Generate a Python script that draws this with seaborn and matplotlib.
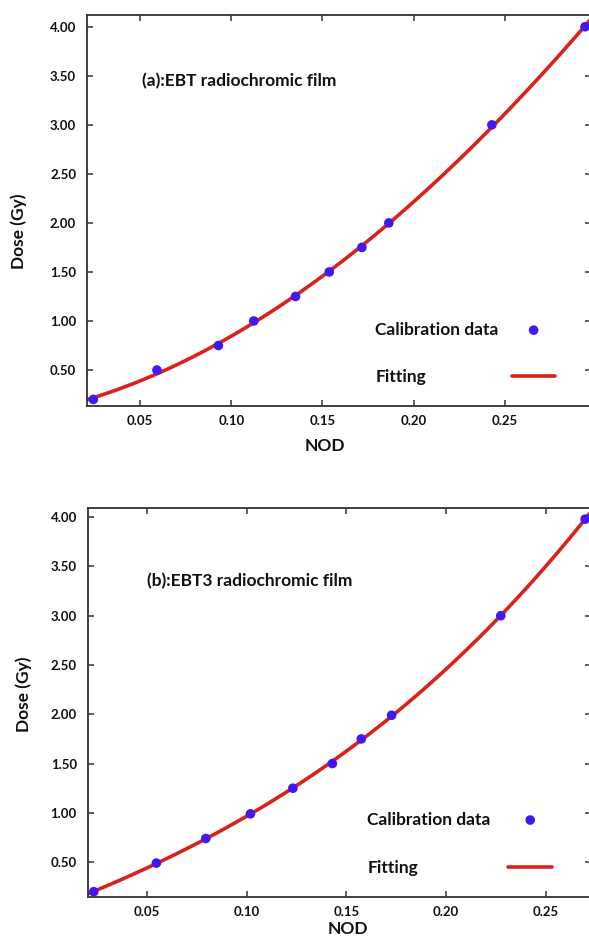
import numpy as np
import pandas as pd
import seaborn as sns
import matplotlib.pyplot as plt
from matplotlib.ticker import FormatStrFormatter

sns.set_theme(style="ticks")
plt.rcParams['font.family'] = ['Lato', 'DejaVu Sans']
plt.rcParams['font.weight'] = 'bold'

# ---- data ----
nod_ebt = [0.0243, 0.0592, 0.0929, 0.1123, 0.1352, 0.1537, 0.1716, 0.1864, 0.2429, 0.2940]
dose_ebt = [0.20, 0.50, 0.75, 1.00, 1.25, 1.50, 1.75, 2.00, 3.00, 4.00]
nod_ebt3 = [0.0233, 0.0547, 0.0795, 0.1019, 0.1232, 0.1430, 0.1575, 0.1727, 0.2275, 0.2698]
dose_ebt3 = [0.20, 0.49, 0.74, 0.99, 1.25, 1.50, 1.75, 1.99, 3.00, 3.98]
x_ticks = [0.05, 0.10, 0.15, 0.20, 0.25]
y_ticks = [0.50, 1.00, 1.50, 2.00, 2.50, 3.00, 3.50, 4.00]
panel_titles = ["(a):EBT radiochromic film", "(b):EBT3 radiochromic film"]
series_labels = ["Calibration data", "Fitting"]
x_label = "NOD"
y_label = "Dose (Gy)"

DOT = "#4318F0"
RED = "#D9221C"
SPINE = "#333333"
TXT = "#111111"

W, H = 589, 936
fig = plt.figure(figsize=(W / 100, H / 100), dpi=100)


def rect(l, r, t, b):
    return [l / W, 1 - b / H, (r - l) / W, (b - t) / H]


panels = [
    dict(x=nod_ebt, y=dose_ebt, rect=rect(87.3, 590.5, 15, 406), xlim=(0.0210, 0.2970),
         ylim=(0.133, 4.12), title=panel_titles[0], tpos=(0.109, 0.831),
         leg_text=(0.572, 0.134), leg_handle=(0.887, 0.134), lspace=1.83,
         ylab=(-0.120, 0.446), xlab=(0.473, -0.082)),
    dict(x=nod_ebt3, y=dose_ebt3, rect=rect(88, 590.5, 508.3, 897.3), xlim=(0.0204, 0.2725),
         ylim=(0.143, 4.09), title=panel_titles[1], tpos=(0.117, 0.814),
         leg_text=(0.556, 0.137), leg_handle=(0.880, 0.137), lspace=1.89,
         ylab=(-0.112, 0.521), xlab=(0.518, -0.061)),
]

for p in panels:
    ax = fig.add_axes(p["rect"])
    df = pd.DataFrame({"NOD": p["x"], "Dose": p["y"]})
    ax.set_xlim(*p["xlim"])
    ax.set_ylim(*p["ylim"])
    sns.regplot(data=df, x="NOD", y="Dose", order=3, ci=None, scatter=False,
                truncate=False, ax=ax,
                line_kws=dict(color=RED, lw=2.6, zorder=2))
    fit_line = ax.lines[-1]
    fit_line.set_label(series_labels[1])
    sns.scatterplot(data=df, x="NOD", y="Dose", ax=ax, color=DOT, s=48,
                    edgecolor="none", zorder=3, legend=False)
    dots = ax.collections[-1]
    dots.set_label(series_labels[0])
    ax.set_xlim(*p["xlim"])
    ax.set_ylim(*p["ylim"])
    ax.set_xticks(x_ticks)
    ax.set_yticks(y_ticks)
    ax.xaxis.set_major_formatter(FormatStrFormatter("%.2f"))
    ax.yaxis.set_major_formatter(FormatStrFormatter("%.2f"))
    ax.tick_params(direction="in", length=4.3, width=1.1, color=SPINE,
                   top=True, right=True, labelsize=9.5, labelcolor=TXT)
    ax.tick_params(axis="y", pad=8)
    ax.tick_params(axis="x", pad=6.5)
    for s in ax.spines.values():
        s.set_color(SPINE)
        s.set_linewidth(1.3)
    ax.set_xlabel(x_label, fontsize=12.5, fontweight="bold", color=TXT)
    ax.set_ylabel(y_label, fontsize=12.5, fontweight="bold", color=TXT)
    ax.xaxis.set_label_coords(*p["xlab"])
    ax.yaxis.set_label_coords(*p["ylab"])
    ax.text(p["tpos"][0], p["tpos"][1], p["title"], transform=ax.transAxes,
            fontsize=12.5, fontweight="bold", color=TXT, ha="left", va="center")

    hs = [dots, fit_line]
    leg1 = ax.legend(hs, series_labels, loc="center left", bbox_to_anchor=p["leg_text"],
                     frameon=False, handlelength=0, handletextpad=0, borderpad=0,
                     labelspacing=p["lspace"], fontsize=12.5, borderaxespad=0)
    for h in leg1.legend_handles:
        h.set_visible(False)
    for t in leg1.get_texts():
        t.set_color(TXT)
    ax.add_artist(leg1)
    ax.legend(hs, ["", ""], loc="center", bbox_to_anchor=p["leg_handle"],
              frameon=False, handlelength=2.5, handletextpad=0, borderpad=0,
              labelspacing=p["lspace"], fontsize=12.5, borderaxespad=0)

fig.savefig("out.png", dpi=100)
